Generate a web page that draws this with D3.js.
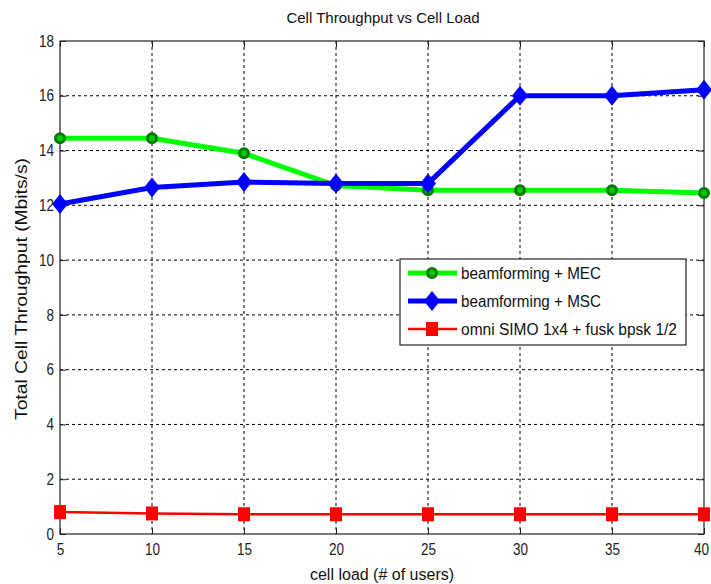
<!DOCTYPE html>
<html><head><meta charset="utf-8">
<script src="https://cdn.jsdelivr.net/npm/d3@7"></script>
<style>body{margin:0;background:#fff}svg{display:block}</style>
</head><body>
<svg id="c" width="711" height="584"></svg>
<script>
const loads = [5,10,15,20,25,30,35,40];
const mec = [14.45,14.45,13.9,12.72,12.55,12.55,12.55,12.45];
const msc = [12.05,12.65,12.85,12.8,12.8,16.0,16.0,16.22];
const omni = [0.8,0.75,0.72,0.72,0.72,0.72,0.72,0.72];
const xTicks = [5,10,15,20,25,30,35,40];
const yTicks = [0,2,4,6,8,10,12,14,16,18];
const seriesNames = ["beamforming + MEC","beamforming + MSC","omni SIMO 1x4 + fusk bpsk 1/2"];

const FONT = "'Liberation Sans Narrow','Liberation Sans',Arial,sans-serif";
const SANS = "'Liberation Sans',Arial,sans-serif";
const svg = d3.select("#c");
const L=60,R=704,T=41,B=534;
const x = d3.scaleLinear().domain([5,40]).range([L,R]);
const y = d3.scaleLinear().domain([0,18]).range([B,T]);

// grid
const g = svg.append("g");
g.selectAll(".gx").data(xTicks.slice(1,-1)).enter().append("line")
  .attr("x1",d=>x(d)).attr("x2",d=>x(d)).attr("y1",T).attr("y2",B)
  .attr("stroke","#000").attr("stroke-width",1).attr("stroke-dasharray","3,3");
g.selectAll(".gy").data(yTicks.slice(1,-1)).enter().append("line")
  .attr("y1",d=>y(d)).attr("y2",d=>y(d)).attr("x1",L).attr("x2",R)
  .attr("stroke","#000").attr("stroke-width",1).attr("stroke-dasharray","3,3");

// axes
const ax = d3.axisBottom(x).tickValues(xTicks).tickSize(-6).tickPadding(10).tickFormat(d3.format("d"));
const ay = d3.axisLeft(y).tickValues(yTicks).tickSize(-6).tickPadding(6).tickFormat(d3.format("d"));
const axT = d3.axisTop(x).tickValues(xTicks).tickSize(-6).tickFormat("");
const ayR = d3.axisRight(y).tickValues(yTicks).tickSize(-6).tickFormat("");
function style(sel){
  sel.select(".domain").remove();
  sel.selectAll("line").attr("stroke","#222");
  sel.selectAll("text").attr("font-family",FONT).attr("font-size",16).attr("fill","#222")
    .attr("textLength",d=>String(d).length*7.5).attr("lengthAdjust","spacingAndGlyphs");
}
const gx = svg.append("g").attr("transform",`translate(0,${B})`).call(ax).call(style);
gx.selectAll("text").filter(d=>d===40).attr("dx",-3);
svg.append("g").attr("transform",`translate(${L},0)`).call(ay).call(style);
svg.append("g").attr("transform",`translate(0,${T})`).call(axT).call(style);
svg.append("g").attr("transform",`translate(${R},0)`).call(ayR).call(style);
svg.append("rect").attr("x",L).attr("y",T).attr("width",R-L).attr("height",B-T)
  .attr("fill","none").attr("stroke","#222").attr("stroke-width",1.2);

const line = d3.line().x((d,i)=>x(loads[i])).y(d=>y(d));
const marks = svg.append("g");
// green MEC
marks.append("path").datum(mec).attr("d",line).attr("fill","none").attr("stroke","#00ff00").attr("stroke-width",5);
marks.selectAll(".m1").data(mec).enter().append("circle")
  .attr("cx",(d,i)=>x(loads[i])).attr("cy",d=>y(d)).attr("r",4.5)
  .attr("fill","#00cc00").attr("stroke","#007a00").attr("stroke-width",3);
// blue MSC
marks.append("path").datum(msc).attr("d",line).attr("fill","none").attr("stroke","#0000ff").attr("stroke-width",5);
const diamond = (cx,cy,s)=>`M${cx},${cy-s}L${cx+s*0.8},${cy}L${cx},${cy+s}L${cx-s*0.8},${cy}Z`;
marks.selectAll(".m2").data(msc).enter().append("path")
  .attr("d",(d,i)=>diamond(x(loads[i]),y(d),10)).attr("fill","#0000ff");
// red
marks.append("path").datum(omni).attr("d",line).attr("fill","none").attr("stroke","#ff0000").attr("stroke-width",2.5);
marks.selectAll(".m3").data(omni).enter().append("rect")
  .attr("x",(d,i)=>x(loads[i])-6).attr("y",d=>y(d)-7).attr("width",12).attr("height",14).attr("fill","#ff0000");

// title & labels
svg.append("text").attr("x",383).attr("y",23).attr("text-anchor","middle")
  .attr("font-family",FONT).attr("font-size",15).attr("fill","#111").text("Cell Throughput vs Cell Load");
svg.append("text").attr("x",382).attr("y",580).attr("text-anchor","middle")
  .attr("font-family",FONT).attr("font-size",16).attr("fill","#111").text("cell load (# of users)");
svg.append("text").attr("transform","translate(27,289) rotate(-90)").attr("text-anchor","middle")
  .attr("font-family",SANS).attr("font-size",16).attr("fill","#111")
  .attr("textLength",262).attr("lengthAdjust","spacingAndGlyphs").text("Total Cell Throughput (Mbits/s)");

// legend
const lg = svg.append("g");
lg.append("rect").attr("x",400).attr("y",259).attr("width",286).attr("height",86)
  .attr("fill","#fff").attr("stroke","#222").attr("stroke-width",1.2);
const ly = [273,301,329];
const lcol = ["#00ff00","#0000ff","#ff0000"];
const lw = [5,5,2.5];
const tl = [140,140,216];
seriesNames.forEach((n,i)=>{
  lg.append("line").attr("x1",408).attr("x2",457).attr("y1",ly[i]).attr("y2",ly[i])
    .attr("stroke",lcol[i]).attr("stroke-width",lw[i]);
  if(i===0) lg.append("circle").attr("cx",432).attr("cy",ly[i]).attr("r",4.5).attr("fill","#00cc00").attr("stroke","#007a00").attr("stroke-width",3);
  if(i===1) lg.append("path").attr("d",diamond(432,ly[i],10)).attr("fill","#0000ff");
  if(i===2) lg.append("rect").attr("x",426).attr("y",ly[i]-7).attr("width",12).attr("height",14).attr("fill","#ff0000");
  lg.append("text").attr("x",461).attr("y",ly[i]+6).attr("font-family",SANS)
    .attr("font-size",16).attr("fill","#111")
    .attr("textLength",tl[i]).attr("lengthAdjust","spacingAndGlyphs").text(n);
});
</script>
</body></html>
